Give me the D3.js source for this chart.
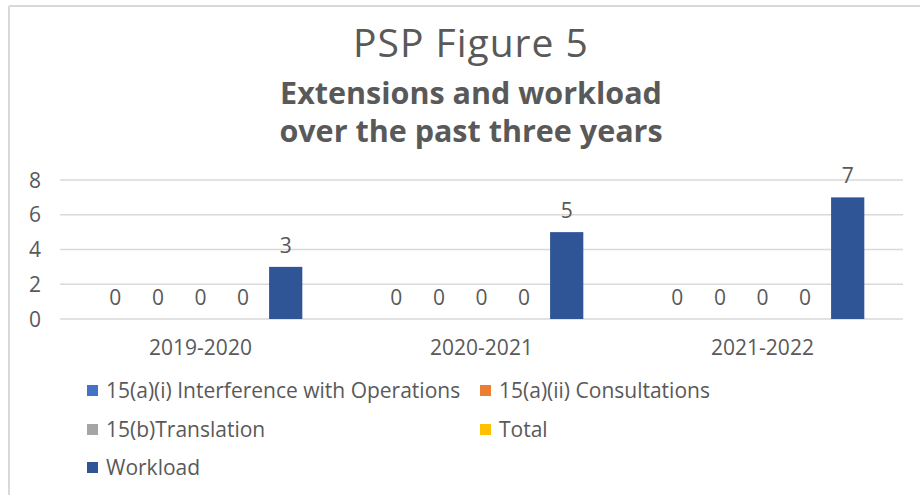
<!DOCTYPE html>
<html>
<head>
<meta charset="utf-8">
<script src="https://cdn.jsdelivr.net/npm/d3@7"></script>
<style>
  body { margin: 0; background: #fff; }
  svg { display: block; }
  text { font-family: "Open Sans", "Noto Sans", sans-serif; fill: #595959; }
</style>
</head>
<body>
<svg id="chart" width="920" height="495"></svg>
<script>
// chart data
const years = ["2019-2020", "2020-2021", "2021-2022"];
const seriesNames = ["15(a)(i) Interference with Operations", "15(a)(ii) Consultations", "15(b)Translation", "Total", "Workload"];
const seriesColors = ["#4472c4", "#ed7d31", "#a5a5a5", "#ffc000", "#2f5597"];
const interference = [0, 0, 0];
const consultations = [0, 0, 0];
const translation = [0, 0, 0];
const total = [0, 0, 0];
const workload = [3, 5, 7];
const yTicks = [0, 2, 4, 6, 8];

const seriesValues = [interference, consultations, translation, total, workload];

const svg = d3.select("#chart");

// frame (top and left border of the chart area)
svg.append("line").attr("x1", 9).attr("x2", 920).attr("y1", 6).attr("y2", 6)
  .attr("stroke", "#d9d9d9").attr("stroke-width", 2);
svg.append("line").attr("x1", 9).attr("x2", 9).attr("y1", 6).attr("y2", 495)
  .attr("stroke", "#d9d9d9").attr("stroke-width", 2);

// titles
svg.append("text").attr("x", 471).attr("y", 57).attr("text-anchor", "middle")
  .style("font-size", "39px").style("letter-spacing", "1px").text("PSP Figure 5");
svg.append("text").attr("x", 471).attr("y", 104).attr("text-anchor", "middle")
  .style("font-size", "30.5px").style("font-weight", "bold").text("Extensions and workload");
svg.append("text").attr("x", 471).attr("y", 142).attr("text-anchor", "middle")
  .style("font-size", "30.5px").style("font-weight", "bold").text("over the past three years");

const x0 = d3.scaleBand().domain(years).range([60, 903]).paddingInner(0.242).paddingOuter(0.121);
const x1 = d3.scaleBand().domain(d3.range(seriesNames.length)).range([0, x0.bandwidth()])
  .paddingInner(0.22).paddingOuter(0.11);
const y = d3.scaleLinear().domain([0, 8]).range([319, 180]);

// gridlines
svg.append("g").selectAll("line").data(yTicks).join("line")
  .attr("x1", 60).attr("x2", 903)
  .attr("y1", d => y(d)).attr("y2", d => y(d))
  .attr("stroke", "#d9d9d9").attr("stroke-width", 1.5);

// y axis labels
svg.append("g").selectAll("text").data(yTicks).join("text")
  .attr("x", 41).attr("y", d => y(d) + 7.5).attr("text-anchor", "end")
  .style("font-size", "21px").text(d => d);

// category labels
svg.append("g").selectAll("text").data(years).join("text")
  .attr("x", d => x0(d) + x0.bandwidth() / 2).attr("y", 355).attr("text-anchor", "middle")
  .style("font-size", "21px").text(d => d);

// bars and value labels
const groups = svg.append("g").selectAll("g").data(years).join("g")
  .attr("transform", d => `translate(${x0(d)},0)`);

groups.each(function(yr, yi) {
  const g = d3.select(this);
  const vals = seriesValues.map((s, si) => ({ si: si, v: s[yi] }));
  g.selectAll("rect").data(vals).join("rect")
    .attr("x", d => x1(d.si)).attr("width", x1.bandwidth())
    .attr("y", d => y(d.v)).attr("height", d => y(0) - y(d.v))
    .attr("fill", d => seriesColors[d.si]);
  g.selectAll("text").data(vals).join("text")
    .attr("x", d => x1(d.si) + x1.bandwidth() / 2)
    .attr("y", d => y(d.v) - 14)
    .attr("text-anchor", "middle")
    .style("font-size", "21px").text(d => d.v);
});

// legend
const legendPos = [[87, 390], [480, 390], [87, 429], [480, 429], [87, 467]];
const legend = svg.append("g").selectAll("g").data(seriesNames).join("g")
  .attr("transform", (d, i) => `translate(${legendPos[i][0]},${legendPos[i][1]})`);
legend.append("rect").attr("x", 0).attr("y", -5).attr("width", 11).attr("height", 11)
  .attr("fill", (d, i) => seriesColors[i]);
legend.append("text").attr("x", 19).attr("y", 8).style("font-size", "21px").text(d => d);
</script>
</body>
</html>
